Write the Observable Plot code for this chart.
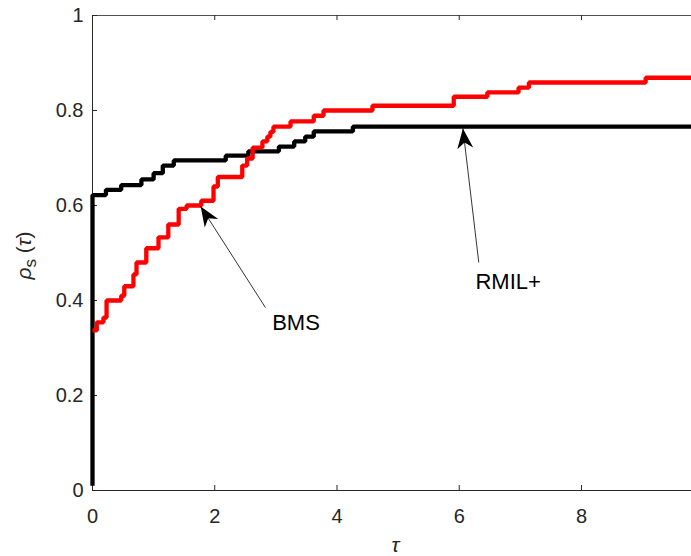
<!DOCTYPE html>
<html><head><meta charset="utf-8">
<script src="https://cdn.jsdelivr.net/npm/d3@7"></script>
<script src="https://cdn.jsdelivr.net/npm/@observablehq/plot@0.6"></script>
<style>
body{margin:0;background:#fff}
#chart svg{font-family:"Liberation Sans",Arial,sans-serif;display:block;overflow:visible}
</style>
</head><body><div id="chart"></div>
<script>
// RMIL+ (black) performance profile, step-after points
const rmilTau = [0, 0, 0.22, 0.47, 0.8, 1.0, 1.15, 1.33, 2.18, 2.55, 3.05, 3.3, 3.48, 3.62, 4.26, 9.8];
const rmilRho = [0.01, 0.622, 0.633, 0.643, 0.655, 0.668, 0.684, 0.695, 0.705, 0.714, 0.724, 0.735, 0.745, 0.756, 0.766, 0.766];
// BMS (red)
const bmsTau = [0, 0.07, 0.18, 0.23, 0.47, 0.52, 0.67, 0.72, 0.88, 1.08, 1.24, 1.41, 1.54, 1.78, 1.98, 2.05, 2.45, 2.53, 2.62, 2.78, 2.86, 2.91, 2.96, 3.24, 3.62, 3.78, 4.58, 5.91, 6.46, 6.97, 7.14, 9.05, 9.8];
const bmsRho = [0.337, 0.354, 0.364, 0.40, 0.41, 0.43, 0.455, 0.48, 0.51, 0.533, 0.56, 0.593, 0.60, 0.61, 0.64, 0.66, 0.684, 0.699, 0.722, 0.735, 0.745, 0.755, 0.766, 0.777, 0.789, 0.80, 0.81, 0.829, 0.838, 0.848, 0.859, 0.869, 0.869];

const xTicks = [0, 2, 4, 6, 8];
const yTicks = [0, 0.2, 0.4, 0.6, 0.8, 1];
const xDomain = [0, 9.8];
const yDomain = [0, 1];

// annotations
const annLabels = ["BMS", "RMIL+"];
const annTextX = [3.33, 6.80];
const annTextY = [0.353, 0.44];
const annTailX = [2.83, 6.32];
const annTailY = [0.385, 0.48];
const annTipX = [1.77, 6.06];
const annTipY = [0.598, 0.762];

const rmil = rmilTau.map((t, i) => ({tau: t, rho: rmilRho[i]}));
const bms = bmsTau.map((t, i) => ({tau: t, rho: bmsRho[i]}));
const ann = annLabels.map((l, i) => ({label: l, tx: annTextX[i], ty: annTextY[i], x1: annTailX[i], y1: annTailY[i], x2: annTipX[i], y2: annTipY[i]}));

const W = 691, H = 556, mL = 92, mR = 0, mT = 15, mB = 66;
const innerH = H - mT - mB, innerW = W - mL - mR;
const axisColor = "#262626";

const plot = Plot.plot({
  width: W, height: H,
  marginLeft: mL, marginRight: mR, marginTop: mT, marginBottom: mB,
  style: {fontSize: "20px", color: axisColor, background: "#fff"},
  x: {domain: xDomain},
  y: {domain: yDomain},
  marks: [
    Plot.axisX({ticks: xTicks, tickSize: 0, tickPadding: 18, label: null, tickFormat: d => String(d)}),
    Plot.axisY({ticks: yTicks, tickSize: 0, tickPadding: 9, label: null, tickFormat: d => String(d)}),
    // inward ticks
    Plot.tickX(xTicks, {x: d => d, insetTop: innerH - 5, stroke: axisColor, strokeWidth: 1}),
    Plot.tickX(xTicks, {x: d => d, insetBottom: innerH - 5, stroke: axisColor, strokeWidth: 1}),
    Plot.tickY(yTicks, {y: d => d, insetRight: innerW - 5, stroke: axisColor, strokeWidth: 1}),
    // box lines
    Plot.ruleY([yDomain[0]], {stroke: axisColor, strokeWidth: 1}),
    Plot.ruleY([yDomain[1]], {stroke: axisColor, strokeWidth: 1, strokeOpacity: 0.8}),
    Plot.ruleX([xDomain[0]], {stroke: axisColor, strokeWidth: 1}),
    // series
    Plot.line(rmil, {x: "tau", y: "rho", curve: "step-after", stroke: "#000", strokeWidth: 4.3, strokeLinejoin: "miter", strokeLinecap: "butt"}),
    Plot.line(bms, {x: "tau", y: "rho", curve: "step-after", stroke: "#ff0000", strokeWidth: 4.3, strokeLinejoin: "miter", strokeLinecap: "butt"}),
    // annotations
    Plot.link(ann, {x1: "x1", y1: "y1", x2: "x2", y2: "y2", stroke: "#000", strokeWidth: 0.8, markerEnd: "arrow"}),
    Plot.text(ann, {x: "tx", y: "ty", text: "label", fill: "#000", fontSize: 22, textAnchor: "middle"})
  ]
});

// restyle arrowheads as filled MATLAB-like heads
plot.querySelectorAll("marker").forEach(m => {
  m.setAttribute("markerUnits", "userSpaceOnUse");
  m.setAttribute("viewBox", "-21 -10 22 20");
  m.setAttribute("markerWidth", "22");
  m.setAttribute("markerHeight", "20");
  m.setAttribute("refX", "0");
  m.setAttribute("refY", "0");
  m.setAttribute("orient", "auto");
  m.setAttribute("fill", "#000");
  m.setAttribute("stroke", "none");
  m.innerHTML = "";
  const p = document.createElementNS("http://www.w3.org/2000/svg", "path");
  p.setAttribute("d", "M0,0 L-20,-8 L-14,0 L-20,8 Z");
  m.appendChild(p);
});

const svg = d3.select(plot);
// y-axis label: rho_s (tau)
const yl = svg.append("text")
  .attr("transform", `translate(31,${mT + innerH * 0.5 + 3}) rotate(-90)`)
  .attr("text-anchor", "middle")
  .attr("fill", axisColor)
  .attr("font-size", 21);
yl.append("tspan").attr("font-style", "italic").text("ρ");
yl.append("tspan").attr("dy", 5).attr("font-size", 17).text("s");
yl.append("tspan").attr("dy", -5).text(" (");
yl.append("tspan").attr("font-style", "italic").text("τ");
yl.append("tspan").text(")");
// x-axis label
svg.append("text")
  .attr("x", mL + (W - mL) * 0.5 + 4)
  .attr("y", H - 4)
  .attr("text-anchor", "middle")
  .attr("fill", axisColor)
  .attr("font-size", 21)
  .attr("font-style", "italic")
  .text("τ");

document.getElementById("chart").appendChild(plot);
</script>
</body></html>
